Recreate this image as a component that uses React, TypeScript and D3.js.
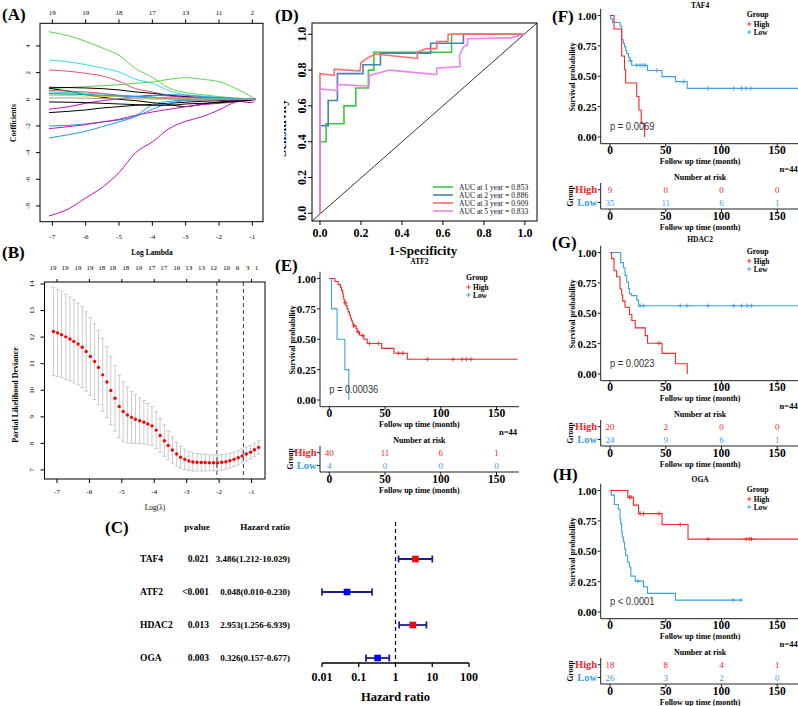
import React from "react";
import * as d3 from "d3";

const SERIF = "'Liberation Serif','Times New Roman',serif";
const SANS = "'Liberation Sans',Arial,sans-serif";

// ---------------- Panel A: LASSO coefficient paths ----------------
const A_LOG_LAMBDA = [-7.1, -6.5, -6, -5.5, -5, -4.5, -4, -3.5, -3, -2.5, -2, -1.5, -1, -0.9];
const A_COEFS = [
  [5.07, 4.75, 4.35, 3.85, 3.3, 2.3, 1.65, 0.85, 0.5, 0.35, 0.2, 0.1, 0.02, 0],
  [2.95, 2.8, 2.6, 2.35, 2.05, 1.5, 1.2, 0.65, 0.35, 0.25, 0.15, 0.07, 0.02, 0],
  [2.2, 2.1, 1.95, 1.75, 1.35, 0.8, 0.55, 0.3, 0.2, 0.15, 0.08, 0.04, 0.01, 0],
  [0.8, 0.88, 0.95, 1.02, 1.1, 1.2, 1.3, 1.5, 1.62, 1.5, 1.32, 0.82, 0.15, 0],
  [0.9, 0.88, 0.85, 0.8, 0.7, 0.55, 0.45, 0.3, 0.2, 0.1, 0.05, 0.02, 0, 0],
  [0.82, 0.6, 0.35, 0.15, 0.0, -0.1, -0.25, -0.4, -0.55, -0.35, -0.2, -0.1, -0.02, 0],
  [-0.75, -0.55, -0.3, -0.1, 0.05, 0.2, 0.3, 0.25, 0.15, 0.1, 0.05, -0.1, -0.25, 0],
  [-1.0, -0.9, -0.8, -0.65, -0.55, -0.45, -0.38, -0.3, -0.22, -0.15, -0.1, -0.05, -0.01, 0],
  [-2.0, -1.95, -1.85, -1.7, -1.55, -1.25, -0.4, -0.15, -0.05, 0.1, 0.1, 0.05, 0.0, 0],
  [-2.2, -2.05, -1.9, -1.7, -1.5, -1.2, -0.95, -0.75, -0.55, -0.4, -0.3, -0.2, -0.05, 0],
  [-2.9, -2.65, -2.4, -2.05, -1.7, -1.3, -0.75, -0.3, -0.1, -0.05, -0.02, 0, 0, 0],
  [-8.75, -8.2, -7.4, -6.6, -5.5, -4.0, -3.2, -2.2, -1.65, -1.3, -0.8, -0.2, -0.02, 0],
  [0.55, 0.5, 0.45, 0.4, 0.3, 0.25, 0.15, 0.1, 0.05, 0.03, 0.02, 0.01, 0, 0],
  [0.3, 0.28, 0.25, 0.22, 0.2, 0.15, 0.1, 0.08, 0.05, 0.03, 0.02, 0.01, 0, 0],
  [0.65, 0.62, 0.55, 0.45, 0.3, 0.2, 0.1, 0.05, -0.02, -0.05, -0.05, -0.03, 0, 0],
  [-0.2, -0.22, -0.25, -0.3, -0.35, -0.4, -0.45, -0.45, -0.35, -0.3, -0.25, -0.15, -0.05, 0],
  [0.4, 0.38, 0.35, 0.3, 0.25, 0.2, 0.15, 0.12, 0.1, 0.08, 0.05, 0.02, 0, 0],
  [0.45, 0.4, 0.35, 0.3, 0.25, 0.2, 0.25, 0.35, 0.3, 0.2, 0.1, 0.05, 0, 0],
  [0.1, 0.1, 0.08, 0.06, 0.05, 0.04, 0.03, 0.02, 0.01, 0, 0, 0, 0, 0],
];
const A_COLORS = [
  "#61D04F", "#28E2E5", "#DF536B", "#61D04F", "#000000", "#000000", "#CD0BBC",
  "#000000", "#2297E6", "#CD0BBC", "#2297E6", "#CD0BBC", "#28E2E5", "#F5C710",
  "#DF536B", "#000000", "#61D04F", "#2297E6", "#9E9E9E",
];
const A_X_TICKS = [-7, -6, -5, -4, -3, -2, -1];
const A_Y_TICKS = [-8, -6, -4, -2, 0, 2, 4];
const A_TOP_DF = ["19", "19", "18", "17", "13", "11", "2"];

// ---------------- Panel B: cross-validation ----------------
const B_LOG_LAMBDA = [
  -7.11, -6.98, -6.86, -6.73, -6.6, -6.48, -6.35, -6.22, -6.1, -5.97, -5.84, -5.72, -5.59,
  -5.46, -5.34, -5.21, -5.08, -4.96, -4.83, -4.7, -4.58, -4.45, -4.32, -4.2, -4.07, -3.94,
  -3.82, -3.69, -3.57, -3.44, -3.31, -3.19, -3.06, -2.93, -2.81, -2.68, -2.55, -2.43, -2.3,
  -2.17, -2.05, -1.92, -1.79, -1.67, -1.54, -1.41, -1.29, -1.16, -1.03, -0.91, -0.78,
];
const B_DEVIANCE = [
  12.21, 12.16, 12.09, 12.01, 11.93, 11.84, 11.74, 11.62, 11.46, 11.27, 11.08, 10.86, 10.58,
  10.31, 9.99, 9.7, 9.39, 9.2, 9.07, 8.98, 8.91, 8.85, 8.8, 8.73, 8.66, 8.5, 8.3, 8.1, 7.92,
  7.75, 7.6, 7.48, 7.4, 7.34, 7.3, 7.29, 7.28, 7.28, 7.27, 7.27, 7.27, 7.29, 7.31, 7.35, 7.4,
  7.46, 7.53, 7.6, 7.67, 7.76, 7.85,
];
const B_SD = [
  1.66, 1.64, 1.62, 1.6, 1.58, 1.56, 1.54, 1.52, 1.49, 1.46, 1.43, 1.4, 1.37, 1.33, 1.29, 1.24,
  1.18, 1.12, 1.05, 0.98, 0.92, 0.86, 0.81, 0.77, 0.73, 0.69, 0.64, 0.59, 0.54, 0.49, 0.45, 0.41,
  0.38, 0.36, 0.34, 0.33, 0.32, 0.31, 0.3, 0.3, 0.29, 0.29, 0.28, 0.28, 0.27, 0.27, 0.26, 0.26,
  0.25, 0.25, 0.25,
];
const B_LAMBDA_MIN = -2.07;
const B_LAMBDA_1SE = -1.25;
const B_X_TICKS = [-7, -6, -5, -4, -3, -2, -1];
const B_Y_TICKS = [7, 8, 9, 10, 11, 12, 13, 14];
const B_TOP_NZ = ["19", "19", "19", "19", "18", "18", "18", "19", "17", "17", "16", "13", "13", "12", "10", "6", "3", "1"];
const B_TOP_AT = [-7.12, -6.75, -6.35, -5.98, -5.62, -5.28, -4.88, -4.48, -4.08, -3.71, -3.31, -2.94, -2.54, -2.17, -1.77, -1.43, -1.12, -0.85];

// ---------------- Panel C: forest plot ----------------
const C_GENES = ["TAF4", "ATF2", "HDAC2", "OGA"];
const C_PVALUES = ["0.021", "<0.001", "0.013", "0.003"];
const C_HR = [3.486, 0.048, 2.953, 0.326];
const C_LOWER = [1.212, 0.01, 1.256, 0.157];
const C_UPPER = [10.029, 0.23, 6.939, 0.677];
const C_TICKS = [0.01, 0.1, 1, 10, 100];

// ---------------- Panel D: time-dependent ROC ----------------
const D_LABELS = ["AUC at 1 year = 0.853", "AUC at 2 year = 0.886", "AUC at 3 year = 0.909", "AUC at 5 year = 0.833"];
const D_FPR_1 = [0, 0, 0.03, 0.03, 0.117, 0.117, 0.175, 0.175, 0.236, 0.236, 0.263, 0.263, 0.642, 0.642, 1];
const D_TPR_1 = [0, 0.4, 0.4, 0.5, 0.5, 0.6, 0.6, 0.7, 0.7, 0.8, 0.8, 0.9, 0.9, 1, 1];
const D_FPR_2 = [0, 0, 0.04, 0.04, 0.085, 0.085, 0.21, 0.21, 0.295, 0.295, 0.54, 0.54, 0.7, 0.7, 1];
const D_TPR_2 = [0, 0.49, 0.49, 0.63, 0.63, 0.78, 0.78, 0.83, 0.83, 0.895, 0.895, 0.95, 0.95, 1, 1];
const D_FPR_3 = [0, 0, 0.07, 0.07, 0.195, 0.2, 0.22, 0.27, 0.475, 0.475, 0.52, 0.57, 0.57, 0.625, 0.625, 1];
const D_TPR_3 = [0, 0.78, 0.77, 0.805, 0.795, 0.84, 0.86, 0.89, 0.865, 0.9, 0.92, 0.92, 0.96, 0.96, 1, 1];
const D_FPR_5 = [0, 0, 0.085, 0.085, 0.24, 0.24, 0.34, 0.57, 0.57, 0.685, 0.68, 0.7, 0.72, 0.72, 0.93, 1];
const D_TPR_5 = [0, 0.695, 0.685, 0.72, 0.71, 0.77, 0.8, 0.775, 0.81, 0.82, 0.88, 0.93, 0.94, 0.975, 0.98, 1];
const D_COLORS = ["#3CC83C", "#4682B4", "#FF6A6A", "#EE82EE"];
const D_TICKS = [0, 0.2, 0.4, 0.6, 0.8, 1.0];

// ---------------- Panels E-H: Kaplan–Meier ----------------
const ATF2_HIGH = [[0, 1], [5, 0.975], [8, 0.95], [10, 0.925], [11, 0.9], [12, 0.875], [12.5, 0.85], [13, 0.825], [14, 0.8], [15, 0.775], [16, 0.75], [17, 0.725], [18, 0.7], [19, 0.675], [20, 0.65], [21, 0.625], [22, 0.61], [24, 0.585], [25, 0.56], [27, 0.535], [29, 0.53], [31, 0.5], [34, 0.465], [47, 0.425], [58, 0.385], [70, 0.335]];
const ATF2_HIGH_END = 169;
const ATF2_HIGH_CENS = [14, 22, 26, 30, 36, 44, 62, 66, 88, 111, 119, 123, 127];
const ATF2_LOW = [[0, 1], [2, 0.75], [7, 0.5], [14, 0.25], [17.5, 0]];
const ATF2_LOW_END = 17.5;
const ATF2_LOW_CENS: number[] = [];
const ATF2_RISK_HIGH = [40, 11, 6, 1];
const ATF2_RISK_LOW = [4, 0, 0, 0];

const TAF4_HIGH = [[0, 1], [3.6, 0.889], [10.5, 0.667], [13, 0.556], [14, 0.444], [24, 0.333], [26, 0.222], [28, 0.111], [31, 0]];
const TAF4_HIGH_END = 31;
const TAF4_HIGH_CENS: number[] = [];
const TAF4_LOW = [[0, 1], [0.6, 0.971], [2.4, 0.943], [9, 0.914], [10.5, 0.8], [12, 0.771], [13, 0.743], [14, 0.714], [15, 0.686], [16.5, 0.657], [18, 0.629], [19.5, 0.59], [33.7, 0.547], [46.7, 0.497], [58.7, 0.456], [69.3, 0.4]];
const TAF4_LOW_END = 169;
const TAF4_LOW_CENS = [18, 24, 27, 29.5, 31.6, 42, 66, 88, 111, 118, 122, 126.5];
const TAF4_RISK_HIGH = [9, 0, 0, 0];
const TAF4_RISK_LOW = [35, 11, 6, 1];

const HDAC2_HIGH = [[0, 1], [1.5, 0.95], [3.6, 0.85], [6, 0.8], [9, 0.7], [10.5, 0.65], [11.4, 0.6], [13.5, 0.55], [17.5, 0.49], [19.6, 0.44], [22.6, 0.38], [31.6, 0.316], [33.7, 0.253], [46.7, 0.17], [58.7, 0.084], [69.3, 0]];
const HDAC2_HIGH_END = 69.3;
const HDAC2_HIGH_CENS = [44];
const HDAC2_LOW = [[0, 1], [9.6, 0.917], [12, 0.875], [13.5, 0.812], [15, 0.757], [16.6, 0.703], [17.5, 0.662], [19, 0.645], [24, 0.608], [25.6, 0.562]];
const HDAC2_LOW_END = 169;
const HDAC2_LOW_CENS = [27, 30, 63, 69, 88, 111, 118, 123, 127];
const HDAC2_RISK_HIGH = [20, 2, 0, 0];
const HDAC2_RISK_LOW = [24, 9, 6, 1];

const OGA_HIGH = [[0, 1], [16, 0.944], [21, 0.88], [25.6, 0.81], [46.7, 0.72], [70, 0.6]];
const OGA_HIGH_END = 169;
const OGA_HIGH_CENS = [17.5, 19, 27, 30, 44, 63, 88, 122, 125, 127];
const OGA_LOW = [[0, 1], [1.2, 0.962], [3.9, 0.885], [7.5, 0.846], [9, 0.769], [9.6, 0.727], [10.5, 0.654], [11, 0.617], [12, 0.577], [13, 0.52], [14, 0.467], [15.7, 0.41], [17.5, 0.37], [18.7, 0.295], [22.6, 0.254], [30, 0.208], [33.7, 0.153], [58.7, 0.098]];
const OGA_LOW_END = 117.5;
const OGA_LOW_CENS = [25, 110.5, 117.5];
const OGA_RISK_HIGH = [18, 8, 4, 1];
const OGA_RISK_LOW = [26, 3, 2, 0];

const KM_X_TICKS = [0, 50, 100, 150];
const KM_Y_TICKS = [0, 0.25, 0.5, 0.75, 1];
const HIGH_COLOR = "#F02828";
const LOW_COLOR = "#3EA0E0";

// ======================================================================
function PanelA() {
  const L = 40, R = 263, T = 23.3, B = 221.7;
  const x = d3.scaleLinear().domain([-7.37, -0.68]).range([L, R]);
  const y = d3.scaleLinear().domain([-9.18, 5.7]).range([B, T]);
  const line = d3
    .line<number>()
    .x((_, i) => x(A_LOG_LAMBDA[i]))
    .y((d) => y(d))
    .curve(d3.curveMonotoneX);
  return (
    <g>
      <defs>
        <clipPath id="clipA">
          <rect x={L} y={T} width={R - L} height={B - T} />
        </clipPath>
      </defs>
      <g clipPath="url(#clipA)">
        {A_COEFS.map((c, i) => (
          <path key={i} d={line(c) || ""} fill="none" stroke={A_COLORS[i]} strokeWidth={1} />
        ))}
      </g>
      <rect x={L} y={T} width={R - L} height={B - T} fill="none" stroke="#000" strokeWidth={1} />
      {A_X_TICKS.map((t, i) => (
        <g key={t}>
          <line x1={x(t)} x2={x(t)} y1={B} y2={B + 4} stroke="#000" />
          <text x={x(t)} y={B + 15} fontSize={7} fill="#000" textAnchor="middle" dominantBaseline="central">{t}</text>
          <line x1={x(t)} x2={x(t)} y1={T} y2={T - 4} stroke="#000" />
          <text x={x(t)} y={13} fontSize={7} fill="#000" textAnchor="middle" dominantBaseline="central">{A_TOP_DF[i]}</text>
        </g>
      ))}
      {A_Y_TICKS.map((t) => (
        <g key={t}>
          <line x1={L - 4} x2={L} y1={y(t)} y2={y(t)} stroke="#000" />
          <text transform={`translate(${28},${y(t)}) rotate(-90)`} fontSize={7} textAnchor="middle" dominantBaseline="central">{t}</text>
        </g>
      ))}
      <text transform={`translate(13,123) rotate(-90)`} fontSize={7.5} fontWeight="bold" textAnchor="middle" dominantBaseline="central">Coefficients</text>
      <text x={152} y={252} fontSize={7.5} fontWeight="bold" textAnchor="middle" dominantBaseline="central">Log Lambda</text>
    </g>
  );
}

function PanelB() {
  const L = 44.5, R = 265, T = 282, B = 479;
  const x = d3.scaleLinear().domain([-7.385, -0.585]).range([L, R]);
  const y = d3.scaleLinear().domain([6.66, 14.075]).range([B, T]);
  return (
    <g>
      {B_LOG_LAMBDA.map((v, i) => {
        const lo = y(B_DEVIANCE[i] - B_SD[i]);
        const hi = y(B_DEVIANCE[i] + B_SD[i]);
        return (
          <g key={i} stroke="#C4C4C4" strokeWidth={0.9}>
            <line x1={x(v)} x2={x(v)} y1={lo} y2={hi} />
            <line x1={x(v) - 2} x2={x(v) + 2} y1={lo} y2={lo} />
            <line x1={x(v) - 2} x2={x(v) + 2} y1={hi} y2={hi} />
          </g>
        );
      })}
      {B_LOG_LAMBDA.map((v, i) => (
        <circle key={i} cx={x(v)} cy={y(B_DEVIANCE[i])} r={1.7} fill="#FF0000" />
      ))}
      {[B_LAMBDA_MIN, B_LAMBDA_1SE].map((v) => (
        <line key={v} x1={x(v)} x2={x(v)} y1={T} y2={B} stroke="#444" strokeWidth={1} strokeDasharray="4,3" />
      ))}
      <rect x={L} y={T} width={R - L} height={B - T} fill="none" stroke="#000" strokeWidth={1} />
      {B_X_TICKS.map((t) => (
        <g key={t}>
          <line x1={x(t)} x2={x(t)} y1={B} y2={B + 4} stroke="#000" />
          <text x={x(t)} y={B + 13} fontSize={7} textAnchor="middle" dominantBaseline="central">{t}</text>
          <line x1={x(t)} x2={x(t)} y1={T} y2={T - 3} stroke="#000" />
        </g>
      ))}
      {B_TOP_AT.map((v, i) => (
        <text key={i} x={x(v)} y={268} fontSize={7} textAnchor="middle" dominantBaseline="central">{B_TOP_NZ[i]}</text>
      ))}
      {B_Y_TICKS.map((t) => (
        <g key={t}>
          <line x1={L - 4} x2={L} y1={y(t)} y2={y(t)} stroke="#000" />
          <text transform={`translate(${31.5},${y(t)}) rotate(-90)`} fontSize={7} textAnchor="middle" dominantBaseline="central">{t}</text>
        </g>
      ))}
      <text transform={`translate(15,395) rotate(-90)`} fontSize={8} fontWeight="bold" textAnchor="middle" dominantBaseline="central">Partial Likelihood Deviance</text>
      <text x={155} y={507} fontSize={7.5} textAnchor="middle" dominantBaseline="central">Log(λ)</text>
    </g>
  );
}

function PanelC() {
  const x = d3.scaleLog().domain([0.01, 100]).range([322, 469]);
  const yRow = d3.scalePoint<string>().domain(C_GENES).range([559, 658]);
  const axisY = 663;
  return (
    <g fontWeight="bold">
      <text x={197} y={527} fontSize={9} textAnchor="middle" dominantBaseline="central">pvalue</text>
      <text x={290} y={527} fontSize={9} textAnchor="end" dominantBaseline="central">Hazard ratio</text>
      {C_GENES.map((g, i) => {
        const yy = yRow(g) as number;
        const hr = C_HR[i];
        const col = hr > 1 ? "#FF0000" : "#0000FF";
        return (
          <g key={g}>
            <text x={140} y={yy} fontSize={9.5} dominantBaseline="central">{g}</text>
            <text x={209} y={yy} fontSize={9.5} textAnchor="end" dominantBaseline="central">{C_PVALUES[i]}</text>
            <text x={290} y={yy} fontSize={9} textAnchor="end" dominantBaseline="central">
              {`${hr.toFixed(3)}(${C_LOWER[i].toFixed(3)}-${C_UPPER[i].toFixed(3)})`}
            </text>
            <g stroke="#1C1C96" strokeWidth={1.8}>
              <line x1={x(C_LOWER[i])} x2={x(C_UPPER[i])} y1={yy} y2={yy} />
              <line x1={x(C_LOWER[i])} x2={x(C_LOWER[i])} y1={yy - 3.5} y2={yy + 3.5} />
              <line x1={x(C_UPPER[i])} x2={x(C_UPPER[i])} y1={yy - 3.5} y2={yy + 3.5} />
            </g>
            <rect x={x(hr) - 3.3} y={yy - 3.3} width={6.6} height={6.6} fill={col} />
          </g>
        );
      })}
      <line x1={x(1)} x2={x(1)} y1={522} y2={axisY} stroke="#000" strokeWidth={1.2} strokeDasharray="4,3" />
      <line x1={x(0.01)} x2={x(100)} y1={axisY} y2={axisY} stroke="#000" strokeWidth={1.3} />
      {C_TICKS.map((t) => (
        <g key={t}>
          <line x1={x(t)} x2={x(t)} y1={axisY} y2={axisY + 4} stroke="#000" strokeWidth={1.3} />
          <text x={x(t)} y={677} fontSize={12} textAnchor="middle" dominantBaseline="central">{String(t)}</text>
        </g>
      ))}
      <text x={x(1)} y={697} fontSize={12.5} textAnchor="middle" dominantBaseline="central">Hazard ratio</text>
    </g>
  );
}

function PanelD() {
  const L = 312, R = 537, T = 23, B = 221;
  const x = d3.scaleLinear().domain([-0.039, 1.059]).range([L, R]);
  const y = d3.scaleLinear().domain([-0.043, 1.063]).range([B, T]);
  const series = [
    [D_FPR_1, D_TPR_1],
    [D_FPR_2, D_TPR_2],
    [D_FPR_3, D_TPR_3],
    [D_FPR_5, D_TPR_5],
  ];
  const line = d3.line<[number, number]>().x((d) => x(d[0])).y((d) => y(d[1]));
  return (
    <g>
      <defs>
        <clipPath id="clipD">
          <rect x={L} y={T} width={R - L} height={B - T} />
        </clipPath>
        <clipPath id="clipSens">
          <rect x={284} y={0} width={12} height={240} />
        </clipPath>
      </defs>
      <line x1={L} y1={B} x2={R} y2={T} stroke="#000" strokeWidth={0.8} />
      <g clipPath="url(#clipD)">
        {series.map(([f, t], i) => (
          <path
            key={i}
            d={line(f.map((v, j) => [v, t[j]] as [number, number])) || ""}
            fill="none"
            stroke={D_COLORS[i]}
            strokeWidth={1.6}
          />
        ))}
      </g>
      <rect x={L} y={T} width={R - L} height={B - T} fill="none" stroke="#000" strokeWidth={1} />
      {D_TICKS.map((t) => (
        <g key={t} fontWeight="bold">
          <line x1={x(t)} x2={x(t)} y1={B} y2={B + 4} stroke="#000" />
          <text x={x(t)} y={233} fontSize={12} textAnchor="middle" dominantBaseline="central">{t.toFixed(1)}</text>
          <line x1={L - 4} x2={L} y1={y(t)} y2={y(t)} stroke="#000" />
          <text transform={`translate(${302},${y(t)}) rotate(-90)`} fontSize={12} textAnchor="middle" dominantBaseline="central">{t.toFixed(1)}</text>
        </g>
      ))}
      {D_LABELS.map((lab, i) => {
        const yy = 187 + i * 8;
        return (
          <g key={lab}>
            <line x1={433} x2={453} y1={yy} y2={yy} stroke={D_COLORS[i]} strokeWidth={1.6} />
            <text x={459} y={yy} fontSize={7.6} dominantBaseline="central" fill="#111">{lab}</text>
          </g>
        );
      })}
      <g clipPath="url(#clipSens)">
        <text transform={`translate(281,128) rotate(-90)`} fontSize={13} fontWeight="bold" textAnchor="middle" dominantBaseline="central">Sensitivity</text>
      </g>
      <text x={423} y={250} fontSize={13} fontWeight="bold" textAnchor="middle" dominantBaseline="central">1-Specificity</text>
    </g>
  );
}

type Step = number[];
function survAt(steps: Step[], t: number) {
  let s = 1;
  for (const st of steps) if (st[0] <= t) s = st[1];
  return s;
}

function Plus({ x, y, color, r = 2.2 }: any) {
  return <path d={`M${x - r},${y}h${2 * r}M${x},${y - r}v${2 * r}`} stroke={color} strokeWidth={0.9} />;
}

function KM(props: any) {
  const { left, y0, title, titleDy, high, highEnd, highCens, low, lowEnd, lowCens, riskHigh, riskLow, pText } = props;
  const x = d3.scaleLinear().domain([0, 150]).range([left + 9.3, left + 176.5]);
  const y = d3.scaleLinear().domain([0, 1]).range([y0, y0 - 121.5]);
  const xEnd = x(170);
  const axisY = y(-0.055);
  const cx = (left + xEnd) / 2;
  const step = d3
    .line<Step>()
    .x((d) => x(d[0]))
    .y((d) => y(d[1]))
    .curve(d3.curveStepAfter);
  const curve = (steps: Step[], end: number) => step([...steps, [end, steps[steps.length - 1][1]]]) || "";
  const cens = (steps: Step[], times: number[], col: string) =>
    times.map((t, i) => <Plus key={i} x={x(t)} y={y(survAt(steps, t))} color={col} />);
  const tblTop = y0 + 46, tblAxis = y0 + 72;
  const rowH = y0 + 52.7, rowL = y0 + 65.5;
  return (
    <g>
      <text x={cx} y={y0 + titleDy} fontSize={7.5} fontWeight="bold" textAnchor="middle" dominantBaseline="central">{title}</text>
      {/* legend */}
      <text x={left + 146} y={y0 - 122.5} fontSize={7.8} fontWeight="bold" dominantBaseline="central">Group</text>
      <Plus x={left + 148.5} y={y0 - 113} color={HIGH_COLOR} r={2.3} />
      <text x={left + 153} y={y0 - 113} fontSize={7.4} fontWeight="bold" dominantBaseline="central">High</text>
      <Plus x={left + 148.5} y={y0 - 105} color={LOW_COLOR} r={2.3} />
      <text x={left + 153} y={y0 - 105} fontSize={7.4} fontWeight="bold" dominantBaseline="central">Low</text>
      {/* curves */}
      <path d={curve(low, lowEnd)} fill="none" stroke={LOW_COLOR} strokeWidth={1.1} />
      <path d={curve(high, highEnd)} fill="none" stroke={HIGH_COLOR} strokeWidth={1.1} />
      {cens(low, lowCens, LOW_COLOR)}
      {cens(high, highCens, HIGH_COLOR)}
      <text x={x(0)} y={y0 - 11.5} fontSize={11.5} fontFamily={SANS} fill="#333" dominantBaseline="central"
        textLength={pText.length * 4.45} lengthAdjust="spacingAndGlyphs">{pText}</text>
      {/* axes */}
      <line x1={left} x2={left} y1={y(1.055)} y2={axisY} stroke="#222" strokeWidth={1} />
      <line x1={left} x2={xEnd} y1={axisY} y2={axisY} stroke="#222" strokeWidth={1} />
      {KM_Y_TICKS.map((t) => (
        <g key={t}>
          <line x1={left - 3} x2={left} y1={y(t)} y2={y(t)} stroke="#222" />
          <text x={left - 4} y={y(t)} fontSize={11} fontWeight="bold" textAnchor="end" dominantBaseline="central">{t.toFixed(2)}</text>
        </g>
      ))}
      {KM_X_TICKS.map((t) => (
        <g key={t}>
          <line x1={x(t)} x2={x(t)} y1={axisY} y2={axisY + 3} stroke="#222" />
          <text x={x(t)} y={y0 + 13} fontSize={11.5} fontWeight="bold" textAnchor="middle" dominantBaseline="central">{t}</text>
        </g>
      ))}
      <text x={cx} y={y0 + 24} fontSize={8} fontWeight="bold" textAnchor="middle" dominantBaseline="central">Follow up time (month)</text>
      <text transform={`translate(${left - 28},${y0 - 60}) rotate(-90)`} fontSize={8} fontWeight="bold" textAnchor="middle" dominantBaseline="central">Survival probability</text>
      <text x={left + 197} y={y0 + 32} fontSize={8.5} fontWeight="bold" textAnchor="end" dominantBaseline="central">n=44</text>
      <text x={cx} y={y0 + 40.5} fontSize={8} fontWeight="bold" textAnchor="middle" dominantBaseline="central">Number at risk</text>
      {/* risk table */}
      <line x1={left} x2={left} y1={tblTop} y2={tblAxis} stroke="#222" />
      <line x1={left} x2={xEnd} y1={tblAxis} y2={tblAxis} stroke="#222" />
      <line x1={left - 3} x2={left} y1={rowH} y2={rowH} stroke="#222" />
      <line x1={left - 3} x2={left} y1={rowL} y2={rowL} stroke="#222" />
      <text x={left - 3.5} y={rowH} fontSize={10.5} fontWeight="bold" fill={HIGH_COLOR} textAnchor="end" dominantBaseline="central">High</text>
      <text x={left - 3.5} y={rowL} fontSize={10.5} fontWeight="bold" fill={LOW_COLOR} textAnchor="end" dominantBaseline="central">Low</text>
      <text transform={`translate(${left - 30},${y0 + 59}) rotate(-90)`} fontSize={7.5} fontWeight="bold" textAnchor="middle" dominantBaseline="central">Group</text>
      {KM_X_TICKS.map((t, i) => (
        <g key={t}>
          <text x={x(t)} y={rowH} fontSize={9} fill={HIGH_COLOR} textAnchor="middle" dominantBaseline="central">{riskHigh[i]}</text>
          <text x={x(t)} y={rowL} fontSize={9} fill={LOW_COLOR} textAnchor="middle" dominantBaseline="central">{riskLow[i]}</text>
          <line x1={x(t)} x2={x(t)} y1={tblAxis} y2={tblAxis + 3} stroke="#222" />
          <text x={x(t)} y={y0 + 79} fontSize={11.5} fontWeight="bold" textAnchor="middle" dominantBaseline="central">{t}</text>
        </g>
      ))}
      <text x={cx} y={y0 + 90} fontSize={8} fontWeight="bold" textAnchor="middle" dominantBaseline="central">Follow up time (month)</text>
    </g>
  );
}

export default function App() {
  const panelLabels = [
    ["(A)", 2, 14],
    ["(B)", 2, 252],
    ["(C)", 105, 527],
    ["(D)", 275, 15],
    ["(E)", 275, 265],
    ["(F)", 552, 16],
    ["(G)", 552, 242],
    ["(H)", 553, 474],
  ];
  return (
    <svg
      width={798}
      height={706}
      viewBox="0 0 798 706"
      style={{ position: "absolute", left: 0, top: 0, background: "#fff" }}
      fontFamily={SERIF}
      fill="#000"
    >
      <rect x={0} y={0} width={798} height={706} fill="#fff" />
      <PanelA />
      <PanelB />
      <PanelC />
      <PanelD />
      <KM left={320} y0={400} title="ATF2" titleDy={-139} high={ATF2_HIGH} highEnd={ATF2_HIGH_END} highCens={ATF2_HIGH_CENS}
        low={ATF2_LOW} lowEnd={ATF2_LOW_END} lowCens={ATF2_LOW_CENS} riskHigh={ATF2_RISK_HIGH} riskLow={ATF2_RISK_LOW} pText="p = 0.00036" />
      <KM left={600.7} y0={137} title="TAF4" titleDy={-132} high={TAF4_HIGH} highEnd={TAF4_HIGH_END} highCens={TAF4_HIGH_CENS}
        low={TAF4_LOW} lowEnd={TAF4_LOW_END} lowCens={TAF4_LOW_CENS} riskHigh={TAF4_RISK_HIGH} riskLow={TAF4_RISK_LOW} pText="p = 0.0069" />
      <KM left={600.7} y0={374} title="HDAC2" titleDy={-135} high={HDAC2_HIGH} highEnd={HDAC2_HIGH_END} highCens={HDAC2_HIGH_CENS}
        low={HDAC2_LOW} lowEnd={HDAC2_LOW_END} lowCens={HDAC2_LOW_CENS} riskHigh={HDAC2_RISK_HIGH} riskLow={HDAC2_RISK_LOW} pText="p = 0.0023" />
      <KM left={600.7} y0={612} title="OGA" titleDy={-133} high={OGA_HIGH} highEnd={OGA_HIGH_END} highCens={OGA_HIGH_CENS}
        low={OGA_LOW} lowEnd={OGA_LOW_END} lowCens={OGA_LOW_CENS} riskHigh={OGA_RISK_HIGH} riskLow={OGA_RISK_LOW} pText="p < 0.0001" />
      {panelLabels.map(([t, x, y]) => (
        <text key={t as string} x={x as number} y={y as number} fontSize={17} fontWeight="bold" dominantBaseline="central">{t}</text>
      ))}
    </svg>
  );
}
